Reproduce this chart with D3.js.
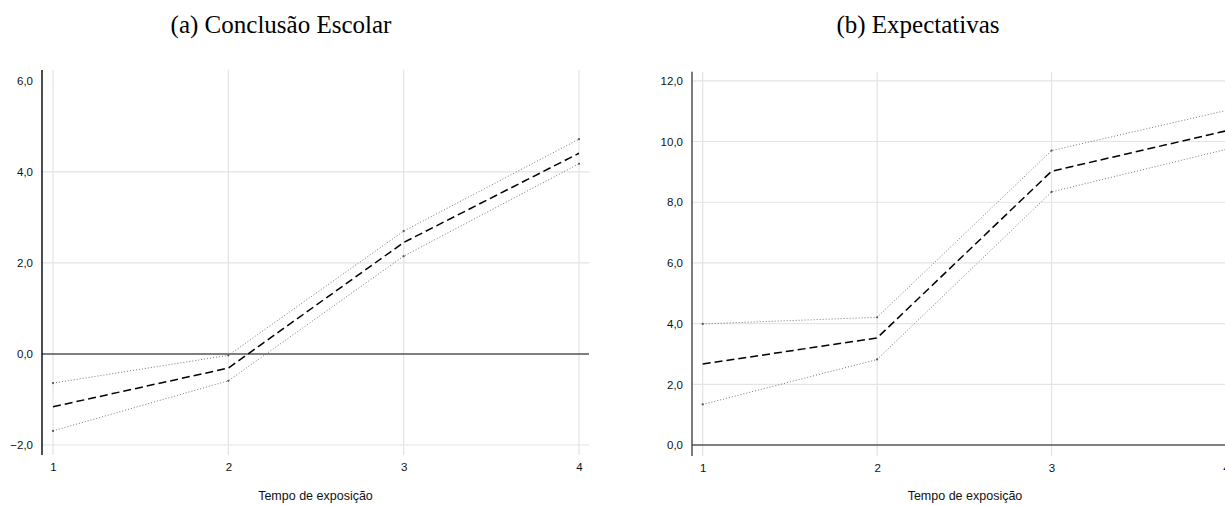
<!DOCTYPE html>
<html>
<head>
<meta charset="utf-8">
<script src="https://cdn.jsdelivr.net/npm/d3@7"></script>
<style>
  body { margin: 0; background: #fff; }
  svg { display: block; }
  .tick text { font-family: "Liberation Sans", Arial, sans-serif; font-size: 11.5px; fill: #111; }
</style>
</head>
<body>
<svg id="chart" width="1225" height="505"></svg>
<script>
// exposure time (x) for both panels
const exposure = [1, 2, 3, 4];

// (a) Conclusão Escolar
const schoolMean  = [-1.16, -0.31, 2.45, 4.41];
const schoolUpper = [-0.64, -0.03, 2.70, 4.72];
const schoolLower = [-1.69, -0.59, 2.15, 4.18];
const schoolTicks = [-2, 0, 2, 4, 6];

// (b) Expectativas
const expectMean  = [2.67, 3.53, 9.02, 10.35];
const expectUpper = [3.99, 4.21, 9.70, 11.02];
const expectLower = [1.34, 2.82, 8.34, 9.74];
const expectTicks = [0, 2, 4, 6, 8, 10, 12];

const titles = ['(a) Conclusão Escolar', '(b) Expectativas'];
const xTitle = 'Tempo de exposição';

const ptBR = d3.formatLocale({ decimal: ',', thousands: '.', grouping: [3], currency: ['R$', ''] });
const fmt = ptBR.format('.1f');

const svg = d3.select('#chart');

const panels = [
  {
    title: titles[0], mean: schoolMean, upper: schoolUpper, lower: schoolLower, ticks: schoolTicks,
    left: 42, right: 589, xr: [53, 579], yd: [-2.22, 6.24], yr: [455, 70],
    gridY: [-2, 2, 4], axisColor: '#000', titleX: 281
  },
  {
    title: titles[1], mean: expectMean, upper: expectUpper, lower: expectLower, ticks: expectTicks,
    left: 692, right: 1238, xr: [702.7, 1226], yd: [-0.36, 12.3], yr: [456, 71.7],
    gridY: [2, 4, 6, 8, 10, 12], axisColor: '#444', titleX: 918
  }
];

panels.forEach(p => {
  const x = d3.scaleLinear().domain([1, 4]).range(p.xr);
  const y = d3.scaleLinear().domain(p.yd).range(p.yr);
  const g = svg.append('g');
  const top = p.yr[1], bottom = p.yr[0];

  // gridlines
  g.selectAll('.gx').data(exposure).enter().append('line')
    .attr('x1', d => x(d)).attr('x2', d => x(d))
    .attr('y1', top).attr('y2', bottom)
    .attr('stroke', '#e3e5e1').attr('stroke-width', 1.2);
  g.selectAll('.gy').data(p.gridY).enter().append('line')
    .attr('x1', p.left).attr('x2', p.right)
    .attr('y1', d => y(d)).attr('y2', d => y(d))
    .attr('stroke', '#e3e5e1').attr('stroke-width', 1.2);

  // zero line
  g.append('line')
    .attr('x1', p.left).attr('x2', p.right)
    .attr('y1', y(0)).attr('y2', y(0))
    .attr('stroke', '#555').attr('stroke-width', 1.4);

  // y axis
  const yAxis = g.append('g')
    .attr('transform', `translate(${p.left},0)`)
    .call(d3.axisLeft(y).tickValues(p.ticks).tickFormat(fmt).tickSize(0).tickPadding(9));
  yAxis.select('.domain').remove();
  g.append('line')
    .attr('x1', p.left).attr('x2', p.left)
    .attr('y1', top).attr('y2', bottom)
    .attr('stroke', p.axisColor).attr('stroke-width', 1.4);

  // x axis labels
  const xAxis = g.append('g')
    .attr('transform', `translate(0,${bottom})`)
    .call(d3.axisBottom(x).tickValues(exposure).tickFormat(d3.format('d')).tickSize(0).tickPadding(8));
  xAxis.select('.domain').remove();

  g.append('text')
    .attr('x', (p.left + p.right) / 2).attr('y', 500)
    .attr('text-anchor', 'middle')
    .style('font-family', '"Liberation Sans", Arial, sans-serif')
    .style('font-size', '12.5px').attr('fill', '#111')
    .text(xTitle);

  g.append('text')
    .attr('x', p.titleX).attr('y', 33)
    .attr('text-anchor', 'middle')
    .style('font-family', '"Liberation Serif", "Times New Roman", serif')
    .style('font-size', '25px').attr('fill', '#000')
    .text(p.title);

  const line = d3.line().x((d, i) => x(exposure[i])).y(d => y(d));

  [p.upper, p.lower].forEach(band => {
    g.append('path').datum(band)
      .attr('d', line).attr('fill', 'none')
      .attr('stroke', '#777').attr('stroke-width', 1)
      .attr('stroke-dasharray', '1,2');
    g.selectAll(null).data(band).enter().append('circle')
      .attr('cx', (d, i) => x(exposure[i])).attr('cy', d => y(d))
      .attr('r', 1.1).attr('fill', '#555');
  });

  g.append('path').datum(p.mean)
    .attr('d', line).attr('fill', 'none')
    .attr('stroke', '#000').attr('stroke-width', 1.5)
    .attr('stroke-dasharray', '8,4');
});
</script>
</body>
</html>
